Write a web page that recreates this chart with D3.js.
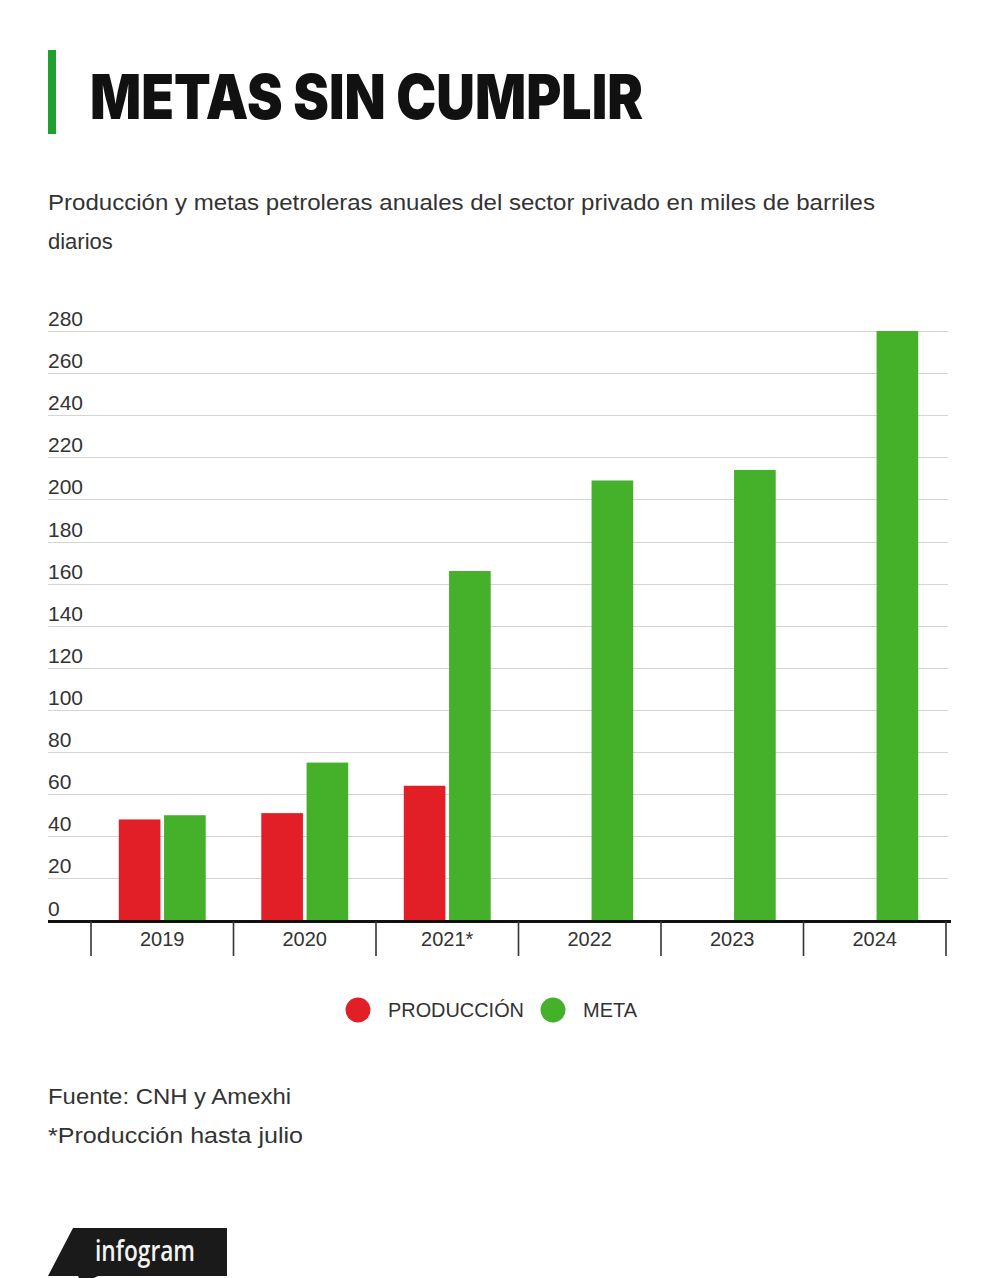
<!DOCTYPE html>
<html>
<head>
<meta charset="utf-8">
<script src="https://cdn.jsdelivr.net/npm/d3@7/dist/d3.min.js"></script>
<style>
  html, body { margin: 0; padding: 0; background: #fff; }
  svg { display: block; }
</style>
</head>
<body>
<svg id="chart" width="1000" height="1278"></svg>
<script>
// ---- Data ----
const categories = ["2019", "2020", "2021*", "2022", "2023", "2024"];
const seriesNames = ["PRODUCCIÓN", "META"];
const produccion = [48, 51, 64, null, null, null];
const meta = [50, 75, 166, 209, 214, 280];
const yTickValues = [0, 20, 40, 60, 80, 100, 120, 140, 160, 180, 200, 220, 240, 260, 280];
const seriesColors = ["#e21f27", "#45b02a"];

const titleText = "METAS SIN CUMPLIR";
const subtitleLines = [
  "Producción y metas petroleras anuales del sector privado en miles de barriles",
  "diarios"
];
const notes = ["Fuente: CNH y Amexhi", "*Producción hasta julio"];

// ---- Setup ----
const svg = d3.select("#chart");
const font = "'Liberation Sans', Arial, sans-serif";

// Title accent bar
svg.append("rect").attr("x", 48).attr("y", 50).attr("width", 8).attr("height", 84).attr("fill", "#1fa02f");

svg.append("text")
  .attr("x", 90).attr("y", 119)
  .attr("font-family", "Inter, 'Liberation Sans', sans-serif")
  .attr("font-weight", 900)
  .attr("font-size", 62)
  .attr("fill", "#111")
  .attr("textLength", 553)
  .attr("lengthAdjust", "spacingAndGlyphs")
  .text(titleText);

svg.selectAll("text.sub").data(subtitleLines).enter().append("text")
  .attr("class", "sub")
  .attr("x", 48).attr("y", (d, i) => 210 + i * 39)
  .attr("font-family", font)
  .attr("font-size", 22)
  .attr("fill", "#333")
  .each(function(d, i) { if (i === 0) d3.select(this).attr("textLength", 827).attr("lengthAdjust", "spacingAndGlyphs"); })
  .text(d => d);

// ---- Scales ----
const x0 = d3.scaleBand().domain(categories).range([91, 946]).padding(0);
const groupW = x0.bandwidth() * 0.61;
const x1 = d3.scaleBand().domain(seriesNames)
  .range([(x0.bandwidth() - groupW) / 2, (x0.bandwidth() + groupW) / 2])
  .paddingInner(0.08);
const y = d3.scaleLinear().domain([0, 280]).range([920.5, 331]);

// Gridlines + y labels
const grid = svg.append("g");
grid.selectAll("line").data(yTickValues.filter(v => v > 0)).enter().append("line")
  .attr("x1", 48).attr("x2", 948)
  .attr("y1", d => Math.round(y(d)) + 0.5).attr("y2", d => Math.round(y(d)) + 0.5)
  .attr("stroke", "#d4d4d4").attr("stroke-width", 1);
grid.selectAll("text").data(yTickValues).enter().append("text")
  .attr("x", 48).attr("y", d => y(d) - 5)
  .attr("font-family", font).attr("font-size", 21).attr("fill", "#333")
  .text(d => d);

// Bars
const rows = categories.map((c, i) => ({ cat: c, values: [produccion[i], meta[i]] }));
const groups = svg.append("g").selectAll("g").data(rows).enter().append("g")
  .attr("transform", d => `translate(${x0(d.cat)},0)`);
groups.selectAll("rect")
  .data(d => d.values.map((v, j) => ({ name: seriesNames[j], v, j })).filter(e => e.v != null))
  .enter().append("rect")
  .attr("x", e => x1(e.name))
  .attr("width", x1.bandwidth())
  .attr("y", e => y(e.v))
  .attr("height", e => y(0) - y(e.v))
  .attr("fill", e => seriesColors[e.j]);

// X axis
svg.append("line").attr("x1", 48).attr("x2", 951).attr("y1", 921.5).attr("y2", 921.5)
  .attr("stroke", "#111").attr("stroke-width", 3);
const boundaries = categories.map(c => x0(c)).concat([x0(categories[categories.length - 1]) + x0.bandwidth()]);
svg.append("g").selectAll("line").data(boundaries).enter().append("line")
  .attr("x1", d => d).attr("x2", d => d).attr("y1", 921).attr("y2", 956)
  .attr("stroke", "#333").attr("stroke-width", 1.6);
svg.append("g").selectAll("text").data(categories).enter().append("text")
  .attr("x", d => x0(d) + x0.bandwidth() / 2).attr("y", 946)
  .attr("text-anchor", "middle")
  .attr("font-family", font).attr("font-size", 20).attr("fill", "#333")
  .text(d => d);

// Legend
const legendPos = [358, 553];
const lg = svg.append("g").selectAll("g").data(seriesNames).enter().append("g")
  .attr("transform", (d, i) => `translate(${legendPos[i]},1010)`);
lg.append("circle").attr("r", 12.5).attr("fill", (d, i) => seriesColors[i]);
lg.append("text").attr("x", 30).attr("y", 7)
  .attr("font-family", font).attr("font-size", 19.5).attr("fill", "#333")
  .attr("textLength", (d, i) => i === 0 ? 136 : 54)
  .attr("lengthAdjust", "spacingAndGlyphs")
  .text(d => d);

// Notes
svg.selectAll("text.note").data(notes).enter().append("text")
  .attr("class", "note")
  .attr("x", 48).attr("y", (d, i) => 1104 + i * 39)
  .attr("font-family", font).attr("font-size", 22.5).attr("fill", "#333")
  .attr("textLength", (d, i) => i === 0 ? 243 : 255)
  .attr("lengthAdjust", "spacingAndGlyphs")
  .text(d => d);

// infogram logo
svg.append("path").attr("d", "M73,1228 L227,1228 L227,1276 L48,1276 Z").attr("fill", "#1a1a1a");
svg.append("path").attr("d", "M78,1276 L98,1276 L82,1284 Z").attr("fill", "#1a1a1a");
svg.append("text").attr("x", 95).attr("y", 1261)
  .attr("font-family", "'Open Sans', sans-serif").attr("font-weight", 600)
  .attr("font-size", 28).attr("fill", "#f2f2f2")
  .attr("textLength", 100).attr("lengthAdjust", "spacingAndGlyphs")
  .text("infogram");
</script>
</body>
</html>
